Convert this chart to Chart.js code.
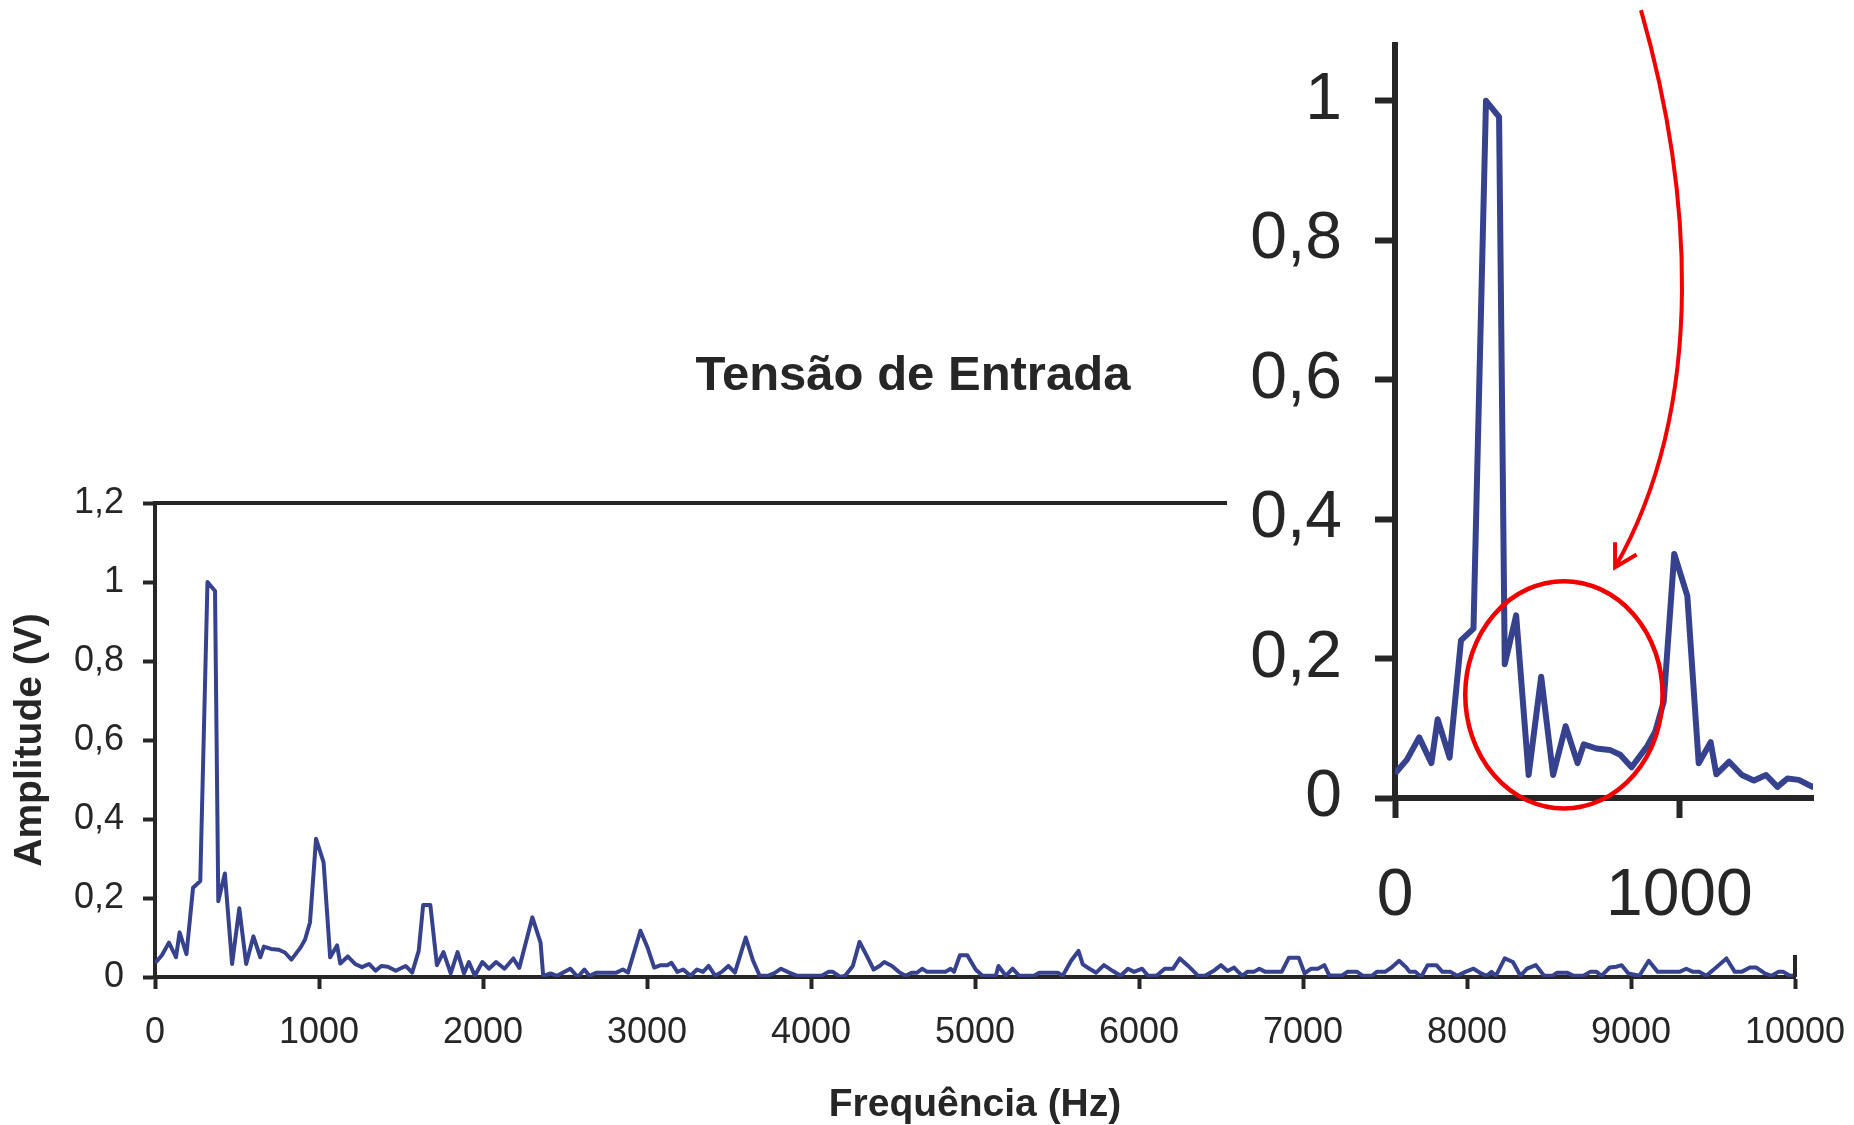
<!DOCTYPE html>
<html>
<head>
<meta charset="utf-8">
<script src="https://cdn.jsdelivr.net/npm/chart.js@4.4.1/dist/chart.umd.min.js"></script>
<style>
  html, body { margin: 0; padding: 0; background: #fff; }
  body { width: 1854px; height: 1125px; position: relative; overflow: hidden; }
  #mainChart { position: absolute; left: 0; top: 0; }
  #zoomChart { position: absolute; left: 1227px; top: 0; background: #fff; }
</style>
</head>
<body>
<canvas id="mainChart" width="1854" height="1125"></canvas>
<canvas id="zoomChart" width="627" height="955"></canvas>
<script>
// espectro da tensao de entrada
const freqHz = [
  0, 42, 85, 128, 150, 192, 232, 276, 320, 366, 386, 426, 470, 514, 556, 600, 642, 664, 708, 755,
  792, 832, 888, 915, 945, 982, 1028, 1068, 1110, 1130, 1175, 1220, 1262, 1305, 1345, 1380, 1420, 1468,
  1528, 1568, 1608, 1635, 1679, 1719, 1759, 1803, 1845, 1884, 1914, 1950, 1996, 2036, 2080, 2131, 2185, 2221, 2301, 2351,
  2367, 2412, 2452, 2532, 2578, 2618, 2649, 2693, 2733, 2773, 2813, 2853, 2884, 2960, 3004, 3044, 3084, 3124, 3149, 3185,
  3221, 3265, 3305, 3341, 3376, 3416, 3456, 3496, 3536, 3602, 3647, 3687, 3737, 3777, 3817, 3867, 3918,
  3994, 4065, 4106, 4133, 4178, 4208, 4255, 4296, 4341, 4382, 4418, 4447, 4494, 4535, 4576, 4616, 4647, 4678, 4708, 4769,
  4820, 4851, 4872, 4908, 4953, 5004, 5045, 5086, 5127, 5143, 5188, 5229, 5270, 5321, 5361, 5392, 5443, 5504, 5535, 5586,
  5631, 5657, 5698, 5739, 5786, 5841, 5888, 5933, 5970, 6019, 6055, 6106, 6157, 6208, 6249, 6300, 6361, 6402, 6453,
  6500, 6540, 6580, 6600, 6630, 6660, 6700, 6734, 6770, 6820, 6870, 6914, 6974, 7010, 7050, 7090, 7130, 7160, 7200, 7240,
  7270, 7330, 7366, 7420, 7450, 7500, 7540, 7586, 7630, 7650, 7686, 7720, 7760, 7814, 7850, 7900, 7940, 7990, 8040, 8086,
  8120, 8150, 8176, 8230, 8280, 8326, 8366, 8420, 8470, 8520, 8550, 8610, 8650, 8710, 8750, 8790, 8820, 8870, 8910,
  8943, 8984, 9051, 9108, 9163, 9224, 9296, 9337, 9378, 9418, 9459, 9510, 9582, 9633, 9674, 9725, 9765, 9816, 9857, 9898,
  9929, 9969, 9992
];
const ampV = [
  .035, .055, .087, .05, .113, .058, .226, .243, 1.0, .977, .192, .262, .033, .174, .033, .103, .05, .077, .071, .069,
  .062, .044, .075, .095, .138, .35, .29, .05, .08, .034, .052, .033, .025, .033, .016, .028, .026, .016,
  .028, .011, .066, .182, .182, .03, .063, .009, .063, .009, .038, .003, .038, .021, .038, .021, .047, .023, .151, .087,
  .003, .009, .003, .021, 0, .019, .003, .011, .011, .011, .011, .019, .011, .117, .074, .024, .03, .03, .036, .013,
  .019, .003, .019, .013, .028, .003, .013, .028, .011, .1, .041, .003, .003, .01, .021, .011, .003,
  .003, .003, .013, .013, 0, .003, .028, .089, .053, .019, .028, .038, .028, .013, .003, .011, .011, .021, .013, .013,
  .013, .021, .013, .055, .055, .019, .003, .003, .003, .028, .003, .021, .003, .003, .003, .011, .011, .011, .003, .041,
  .066, .032, .021, .011, .03, .015, .003, .021, .013, .021, .003, .003, .021, .021, .047, .028, .003, .003, .015,
  .03, .015, .024, .015, .003, .013, .013, .021, .013, .013, .013, .049, .049, .009, .021, .021, .03, .004, .004, .004,
  .013, .013, .003, .003, .013, .013, .024, .041, .024, .013, .013, 0, .03, .03, .013, .013, .003, .013, .021, .009,
  .003, .013, .003, .047, .038, .003, .021, .03, .003, .003, .011, .011, .003, .003, .013, .013, .003, .024, .026,
  .03, .009, .003, .041, .013, .013, .013, .021, .013, .013, .003, .021, .047, .013, .013, .024, .024, .009, .003, .013,
  .013, .003, .004
];

const mainXTicks = [0, 1000, 2000, 3000, 4000, 5000, 6000, 7000, 8000, 9000, 10000];
const mainYTicks = [0, 0.2, 0.4, 0.6, 0.8, 1, 1.2];
const zoomXTicks = [0, 1000];
const zoomYTicks = [0, 0.2, 0.4, 0.6, 0.8, 1];

// marcacao vermelha no zoom (em Hz / V do grafico ampliado)
const circleCenter = [594, 0.148];
const circleRadius = [347, 0.163];
const arrowHz = [865, 1037, 1108, 774];
const arrowV = [1.130, 0.885, 0.570, 0.331];

const lineColor = '#37428f';
const axisColor = '#262626';
const fontFamily = '"Liberation Sans", Arial, sans-serif';

const points = freqHz.map((f, i) => ({ x: f, y: ampV[i] }));
const virgula = v => String(v).replace('.', ',');

const mainTitle = {
  id: 'mainTitle',
  afterDraw(chart) {
    const ctx = chart.ctx;
    const { chartArea } = chart;
    // moldura superior e direita
    ctx.save();
    ctx.strokeStyle = axisColor;
    ctx.lineWidth = 4;
    ctx.beginPath();
    ctx.moveTo(chartArea.left - 2, chartArea.top);
    ctx.lineTo(chartArea.right, chartArea.top);
    ctx.lineTo(chartArea.right, chartArea.bottom);
    ctx.stroke();
    ctx.fillStyle = axisColor;
    ctx.font = 'bold 49px ' + fontFamily;
    ctx.textAlign = 'center';
    ctx.textBaseline = 'middle';
    ctx.fillText('Tensão de Entrada', 913, 376);
    ctx.restore();
  }
};

new Chart(document.getElementById('mainChart'), {
  type: 'line',
  data: {
    datasets: [{
      data: points,
      borderColor: lineColor,
      borderWidth: 4,
      borderJoinStyle: 'round',
      pointRadius: 0,
      tension: 0
    }]
  },
  options: {
    responsive: false,
    devicePixelRatio: 1,
    animation: false,
    layout: { padding: { top: 503, right: 59, left: 0, bottom: 0 } },
    plugins: { legend: { display: false }, tooltip: { enabled: false } },
    scales: {
      x: {
        type: 'linear',
        min: 0,
        max: 10000,
        afterBuildTicks: s => { s.ticks = mainXTicks.map(v => ({ value: v })); },
        afterFit: s => { s.height = 148; s.paddingLeft = 0; s.paddingRight = 0; },
        ticks: { color: axisColor, font: { family: fontFamily, size: 36 }, padding: 22, callback: v => String(v), maxRotation: 0 },
        grid: { drawOnChartArea: false, tickLength: 12, tickWidth: 4, tickColor: axisColor },
        border: { color: axisColor, width: 4 },
        title: { display: true, text: 'Frequência (Hz)', color: axisColor, font: { family: fontFamily, size: 39, weight: 'bold' }, padding: { top: 0, bottom: -4 } }
      },
      y: {
        min: 0,
        max: 1.2,
        afterBuildTicks: s => { s.ticks = mainYTicks.map(v => ({ value: v })); },
        afterFit: s => { s.width = 155; },
        ticks: { color: axisColor, font: { family: fontFamily, size: 36 }, padding: 19, callback: virgula },
        grid: { drawOnChartArea: false, tickLength: 12, tickWidth: 4, tickColor: axisColor },
        border: { color: axisColor, width: 4 },
        title: { display: true, text: 'Amplitude (V)', color: axisColor, font: { family: fontFamily, size: 39, weight: 'bold' }, padding: { top: 7, bottom: 0 } }
      }
    }
  },
  plugins: [mainTitle]
});

const redMarks = {
  id: 'redMarks',
  afterDatasetsDraw(chart) {
    const { ctx } = chart;
    const { x, y } = chart.scales;
    const cx = x.getPixelForValue(circleCenter[0]);
    const cy = y.getPixelForValue(circleCenter[1]);
    const rx = x.getPixelForValue(circleCenter[0] + circleRadius[0]) - cx;
    const ry = cy - y.getPixelForValue(circleCenter[1] + circleRadius[1]);
    ctx.save();
    ctx.strokeStyle = '#f20000';
    ctx.lineWidth = 4.5;
    ctx.beginPath();
    ctx.ellipse(cx, cy, rx, ry, 0, 0, Math.PI * 2);
    ctx.stroke();

    const p = arrowHz.map((h, i) => [x.getPixelForValue(h), y.getPixelForValue(arrowV[i])]);
    ctx.lineWidth = 4;
    ctx.beginPath();
    ctx.moveTo(p[0][0], p[0][1]);
    ctx.bezierCurveTo(p[1][0], p[1][1], p[2][0], p[2][1], p[3][0], p[3][1]);
    ctx.stroke();
    // ponta da seta
    const back = Math.atan2(p[2][1] - p[3][1], p[2][0] - p[3][0]);
    const len = 25;
    ctx.beginPath();
    ctx.moveTo(p[3][0] + len * Math.cos(back - 0.52), p[3][1] + len * Math.sin(back - 0.52));
    ctx.lineTo(p[3][0], p[3][1]);
    ctx.lineTo(p[3][0] + len * Math.cos(back + 0.52), p[3][1] + len * Math.sin(back + 0.52));
    ctx.stroke();
    ctx.restore();
  }
};

new Chart(document.getElementById('zoomChart'), {
  type: 'line',
  data: {
    datasets: [{
      data: points,
      borderColor: lineColor,
      borderWidth: 6,
      borderJoinStyle: 'round',
      pointRadius: 0,
      tension: 0
    }]
  },
  options: {
    responsive: false,
    devicePixelRatio: 1,
    animation: false,
    layout: { padding: { top: 45, right: 41, left: 0, bottom: 0 } },
    plugins: { legend: { display: false }, tooltip: { enabled: false } },
    scales: {
      x: {
        type: 'linear',
        min: 0,
        max: 1470,
        afterBuildTicks: s => { s.ticks = zoomXTicks.map(v => ({ value: v })); },
        afterFit: s => { s.height = 157; s.paddingLeft = 0; s.paddingRight = 0; },
        ticks: { color: axisColor, font: { family: fontFamily, size: 66 }, padding: 39, callback: v => String(v), maxRotation: 0 },
        grid: { drawOnChartArea: false, tickLength: 20, tickWidth: 6, tickColor: axisColor },
        border: { color: axisColor, width: 6 }
      },
      y: {
        min: 0,
        max: 1.08,
        afterBuildTicks: s => { s.ticks = zoomYTicks.map(v => ({ value: v })); },
        afterFit: s => { s.width = 168; s.paddingTop = 0; s.paddingBottom = 0; },
        ticks: { color: axisColor, font: { family: fontFamily, size: 66 }, padding: 33, callback: virgula },
        grid: { drawOnChartArea: false, tickLength: 20, tickWidth: 6, tickColor: axisColor },
        border: { color: axisColor, width: 6 }
      }
    }
  },
  plugins: [redMarks]
});
</script>
</body>
</html>
